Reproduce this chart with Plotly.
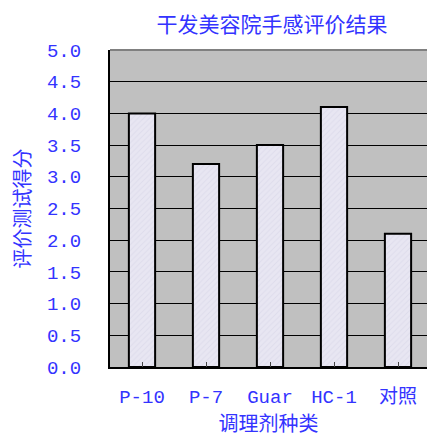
import plotly.graph_objects as go

# Conditioner types and hand-feel evaluation scores (salon, dry hair)
categories = ["P-10", "P-7", "Guar", "HC-1", "对照"]
scores = [4.0, 3.2, 3.5, 4.1, 2.1]
y_ticks = [0.0, 0.5, 1.0, 1.5, 2.0, 2.5, 3.0, 3.5, 4.0, 4.5, 5.0]

BLUE = "#3333FF"
MONO = "Liberation Mono, Noto Sans CJK SC, monospace"
CJK = "Noto Sans CJK SC, sans-serif"

fig = go.Figure(
    go.Bar(
        x=list(range(len(categories))),
        y=scores,
        width=0.41,
        marker=dict(
            color="#E8E6F2",
            line=dict(color="black", width=2),
            pattern=dict(shape="/", fgcolor="#D4D1E4", bgcolor="#E8E6F2",
                         size=4, solidity=0.25),
        ),
        hoverinfo="x+y",
    )
)

fig.update_layout(
    width=427,
    height=437,
    margin=dict(l=110, r=0, t=50, b=70),
    paper_bgcolor="white",
    plot_bgcolor="#C0C0C0",
    showlegend=False,
    bargap=0.59,
    title=dict(
        text="干发美容院手感评价结果",
        font=dict(family=CJK, size=21, color=BLUE),
        x=272 / 427, xanchor="center",
        y=1 - 25 / 437, yanchor="middle",
        xref="container", yref="container",
    ),
    xaxis=dict(
        range=[-0.5, -0.5 + 317 / 64],
        tickmode="array",
        tickvals=list(range(len(categories))),
        ticktext=categories,
        tickson="boundaries",
        ticks="inside",
        ticklen=5,
        tickwidth=1,
        tickcolor="#444444",
        showline=True,
        linecolor="black",
        linewidth=2,
        showgrid=False,
        zeroline=False,
        tickfont=dict(family=MONO, size=19, color=BLUE),
        ticklabelstandoff=11,
        title=dict(text="调理剂种类", font=dict(family=CJK, size=20, color=BLUE),
                   standoff=7),
    ),
    yaxis=dict(
        range=[0, 5],
        tickmode="array",
        tickvals=y_ticks,
        ticktext=[f"{v:.1f}" for v in y_ticks],
        ticks="inside",
        ticklen=5,
        tickcolor="black",
        showline=True,
        linecolor="black",
        linewidth=2,
        showgrid=True,
        gridcolor="black",
        gridwidth=1,
        zeroline=False,
        tickfont=dict(family=MONO, size=19, color=BLUE),
        ticklabelstandoff=23,
        title=dict(text="评价测试得分", font=dict(family=CJK, size=20, color=BLUE),
                   standoff=11),
    ),
    shapes=[
        dict(type="line", xref="x domain", yref="y domain",
             x0=0, x1=1, y0=1, y1=1, line=dict(color="#808080", width=2)),
    ],
)

fig.write_html("out.html")
